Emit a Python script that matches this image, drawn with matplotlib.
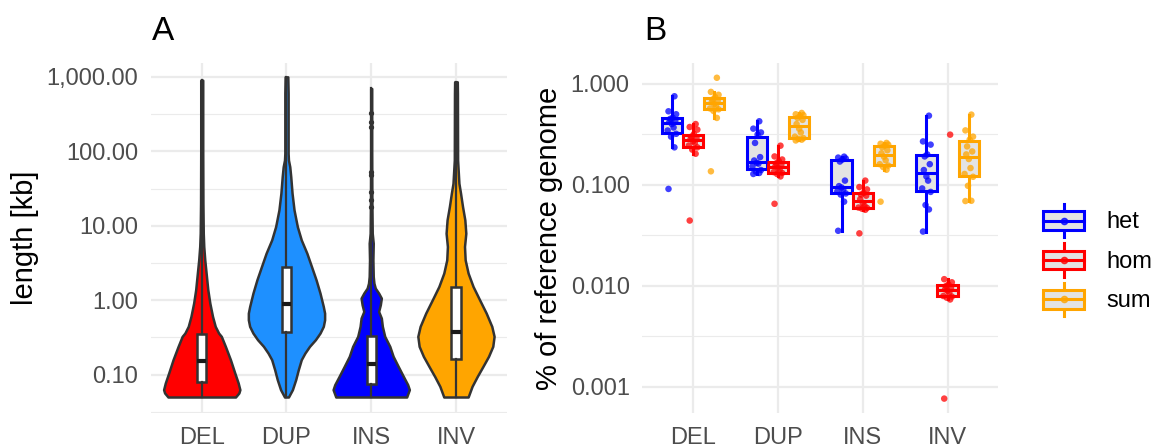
import numpy as np
import matplotlib
matplotlib.use("Agg")
import matplotlib.pyplot as plt
from matplotlib import cbook
from matplotlib.legend_handler import HandlerBase
from matplotlib.patches import Rectangle
from matplotlib.lines import Line2D
from matplotlib.ticker import FixedLocator, FuncFormatter, NullFormatter

plt.rcParams["font.family"] = ["Liberation Sans", "DejaVu Sans"]

SV_TYPES = ["DEL", "DUP", "INS", "INV"]
SV_COLORS = ["#FF0000", "#1E90FF", "#0000FF", "#FFA500"]

# panel A: violin outlines (length in kb, relative width)
DEL_LEN = [0.0501, 0.0568, 0.0629, 0.0773, 0.105, 0.159, 0.240, 0.327, 0.362, 0.445,
           0.605, 0.914, 1.38, 2.31, 3.48, 5.26, 7.93, 20, 100, 902]
DEL_DENS = [100, 110, 113, 108, 98, 85, 70, 58, 50, 40,
            32, 24, 18, 13, 9, 6, 4.5, 3.5, 3, 3]
DUP_LEN = [0.0501, 0.0629, 0.0857, 0.117, 0.159, 0.195, 0.240, 0.295, 0.362, 0.445,
           0.546, 0.671, 0.824, 1.245, 1.879, 2.84, 4.28, 6.46, 9.75, 16.3,
           27.3, 45.6, 62.1, 76.4, 93.8, 598, 1000]
DUP_DENS = [6, 18, 28, 36, 45, 56, 70, 88, 102, 112,
            116, 116, 112, 102, 90, 76, 62, 45, 33, 23,
            17, 13, 10, 6, 5, 5, 4]
INS_LEN = [0.0501, 0.0629, 0.0735, 0.0951, 0.129, 0.176, 0.240, 0.327, 0.445, 0.575,
           0.706, 0.869, 1.067, 1.245, 1.453, 1.695, 2.08, 3.48, 5.82, 7.93,
           20, 100, 698]
INS_DENS = [105, 113, 108, 95, 80, 65, 55, 40, 33, 30,
            22, 27, 30, 22, 12, 8, 6, 5, 6, 3,
            2, 1.5, 1.5]
INV_LEN = [0.0501, 0.0697, 0.0951, 0.129, 0.176, 0.240, 0.327, 0.445, 0.671, 1.01,
           1.53, 2.31, 3.48, 5.26, 7.93, 12.0, 18.1, 27.3, 37.2, 76.4,
           598, 858]
INV_DENS = [37, 49, 65, 82, 99, 112, 116, 109, 92, 72,
            52, 37, 28, 26, 30, 27, 20, 14, 9, 5,
            4.5, 4]

# panel A: box statistics (kb)
LEN_Q1 = [0.079, 0.37, 0.076, 0.162]
LEN_MED = [0.151, 0.886, 0.140, 0.37]
LEN_Q3 = [0.351, 2.83, 0.333, 1.50]
LEN_MIN = [0.05, 0.05, 0.05, 0.05]
LEN_MAX = [902, 1000, 698, 858]
INS_OUTLIERS = [322, 249, 214, 53, 48, 28.7, 22.2, 18.1]

# panel B: % of reference genome per sample
GENOTYPES = ["het", "hom", "sum"]
GT_COLORS = ["#0000FF", "#FF0000", "#FFA500"]
DEL_HET = [0.091, 0.235, 0.30, 0.32, 0.345, 0.37, 0.40, 0.42, 0.43, 0.45, 0.462, 0.50, 0.535, 0.754]
DEL_HOM = [0.0442, 0.203, 0.223, 0.235, 0.245, 0.26, 0.27, 0.285, 0.29, 0.30, 0.318, 0.352, 0.374, 0.40]
DEL_SUM = [0.136, 0.46, 0.54, 0.56, 0.571, 0.60, 0.63, 0.66, 0.68, 0.70, 0.74, 0.78, 0.833, 1.15]
DUP_HET = [0.128, 0.131, 0.135, 0.14, 0.152, 0.162, 0.165, 0.174, 0.188, 0.26, 0.315, 0.33, 0.36, 0.426]
DUP_HOM = [0.0648, 0.121, 0.128, 0.131, 0.1335, 0.14, 0.147, 0.153, 0.158, 0.163, 0.172, 0.178, 0.191, 0.244]
DUP_SUM = [0.275, 0.28, 0.285, 0.29, 0.30, 0.33, 0.36, 0.40, 0.44, 0.46, 0.48, 0.49, 0.50, 0.515]
INS_HET = [0.035, 0.068, 0.08, 0.082, 0.086, 0.09, 0.094, 0.097, 0.11, 0.17, 0.178, 0.182, 0.186, 0.19]
INS_HOM = [0.033, 0.0565, 0.058, 0.059, 0.0595, 0.062, 0.066, 0.072, 0.078, 0.08, 0.083, 0.09, 0.095, 0.11]
INS_SUM = [0.068, 0.141, 0.15, 0.155, 0.16, 0.175, 0.19, 0.205, 0.22, 0.235, 0.245, 0.25, 0.255, 0.26]
INV_HET = [0.0344, 0.057, 0.063, 0.085, 0.092, 0.11, 0.121, 0.14, 0.16, 0.191, 0.20, 0.25, 0.269, 0.484]
INV_HOM = [0.00076, 0.0073, 0.0076, 0.0078, 0.0079, 0.0085, 0.0089, 0.0092, 0.0095, 0.0099, 0.0103, 0.0108, 0.0116, 0.314]
INV_SUM = [0.069, 0.0694, 0.0977, 0.12, 0.128, 0.1465, 0.18, 0.20, 0.214, 0.24, 0.28, 0.30, 0.346, 0.496]

JITTER = [-0.04, 0.03, -0.01, 0.05, -0.05, 0.02, 0.0, -0.03, 0.04, -0.02, 0.01, 0.05, -0.04, 0.03]

GRID = "#EBEBEB"
TEXT_GREY = "#4D4D4D"
OUTLINE = "#333333"
BOX_FILL = "#E3E3E3"

W, H = 1153, 447
fig = plt.figure(figsize=(W / 100, H / 100), dpi=100)
ax_a = fig.add_axes([150.9 / W, 1 - 413 / H, 355.9 / W, 350.3 / H])
ax_b = fig.add_axes([642.2 / W, 1 - 413 / H, 356.3 / W, 350.3 / H])


def style_axis(ax, lo, hi, majors, fmt):
    ax.set_yscale("log")
    ax.set_ylim(lo, hi)
    ax.set_xlim(0.4, 4.6)
    ax.set_xticks(range(1, 5))
    ax.set_xticklabels(SV_TYPES)
    ax.yaxis.set_major_locator(FixedLocator(majors))
    ax.yaxis.set_major_formatter(FuncFormatter(fmt))
    halves = [10 ** (np.log10(m) + 0.5) for m in majors] + [10 ** (np.log10(majors[0]) - 0.5)]
    ax.yaxis.set_minor_locator(FixedLocator(halves))
    ax.yaxis.set_minor_formatter(NullFormatter())
    ax.grid(which="major", color=GRID, lw=1.6)
    ax.grid(which="minor", axis="y", color=GRID, lw=0.8)
    ax.set_axisbelow(True)
    for s in ax.spines.values():
        s.set_visible(False)
    ax.tick_params(which="both", length=0, labelsize=17, colors=TEXT_GREY)
    ax.tick_params(axis="x", pad=10)
    ax.tick_params(axis="y", pad=9)


# ---- panel A ----
profiles = [(DEL_LEN, DEL_DENS), (DUP_LEN, DUP_DENS), (INS_LEN, INS_DENS), (INV_LEN, INV_DENS)]
vpstats = []
for i, (lens, dens) in enumerate(profiles):
    vpstats.append(dict(coords=np.array(lens), vals=np.array(dens, float),
                        mean=LEN_MED[i], median=LEN_MED[i], min=LEN_MIN[i], max=LEN_MAX[i]))
parts = ax_a.violin(vpstats, positions=[1, 2, 3, 4], widths=0.9,
                    showmeans=False, showextrema=False, showmedians=False)
for body, c in zip(parts["bodies"], SV_COLORS):
    body.set_facecolor(c)
    body.set_edgecolor(OUTLINE)
    body.set_linewidth(1.8)
    body.set_alpha(1)
    body.set_zorder(2)

box_a = []
for i in range(4):
    box_a.append(dict(med=LEN_MED[i], q1=LEN_Q1[i], q3=LEN_Q3[i],
                      whislo=LEN_MIN[i], whishi=LEN_MAX[i],
                      fliers=INS_OUTLIERS if SV_TYPES[i] == "INS" else []))
ax_a.bxp(box_a, positions=[1, 2, 3, 4], widths=0.11, patch_artist=True, showcaps=False,
         boxprops=dict(facecolor="white", edgecolor=OUTLINE, lw=1.8),
         whiskerprops=dict(color=OUTLINE, lw=1.6),
         medianprops=dict(color="#1A1A1A", lw=3),
         flierprops=dict(marker="o", ms=2.8, markerfacecolor=OUTLINE, markeredgecolor=OUTLINE),
         zorder=3)
style_axis(ax_a, 10 ** -1.515, 10 ** 3.19, [0.1, 1, 10, 100, 1000], lambda v, p: f"{v:,.2f}")

# ---- panel B ----
groups = [[DEL_HET, DEL_HOM, DEL_SUM], [DUP_HET, DUP_HOM, DUP_SUM],
          [INS_HET, INS_HOM, INS_SUM], [INV_HET, INV_HOM, INV_SUM]]
offsets = [-0.25, 0.0, 0.25]
for i, trio in enumerate(groups):
    for j, vals in enumerate(trio):
        pos = i + 1 + offsets[j]
        c = GT_COLORS[j]
        st = cbook.boxplot_stats(np.log10(vals), whis=1.5)[0]
        for k in ("med", "q1", "q3", "whislo", "whishi", "mean", "cilo", "cihi"):
            st[k] = 10 ** st[k]
        st["fliers"] = []
        ax_b.bxp([st], positions=[pos], widths=0.24, patch_artist=True,
                 showcaps=False, showfliers=False,
                 boxprops=dict(facecolor=BOX_FILL, edgecolor=c, lw=2.2),
                 whiskerprops=dict(color=c, lw=2.2),
                 medianprops=dict(color=c, lw=2.2), zorder=2)
        ax_b.scatter(pos + np.array(JITTER[:len(vals)]), vals, s=22, color=c,
                     alpha=0.75, edgecolors="none", zorder=3)
style_axis(ax_b, 10 ** -3.262, 10 ** 0.21, [0.001, 0.01, 0.1, 1], lambda v, p: f"{v:.3f}")


class BoxKey(HandlerBase):
    def create_artists(self, legend, orig_handle, xdescent, ydescent, width, height, fontsize, trans):
        c = orig_handle.get_color()
        x0, y0 = -xdescent, -ydescent
        cx, cy = x0 + width / 2, y0 + height / 2
        bw, bh = width * 0.88, height * 0.55
        whisk = Line2D([cx, cx, np.nan, cx, cx],
                       [y0, cy - bh / 2, np.nan, cy + bh / 2, y0 + height],
                       color=c, lw=2.2, transform=trans)
        box = Rectangle((cx - bw / 2, cy - bh / 2), bw, bh, facecolor=BOX_FILL,
                        edgecolor=c, lw=2.2, transform=trans)
        med = Line2D([cx - bw / 2, cx + bw / 2], [cy, cy], color=c, lw=2.2, transform=trans)
        dot = Line2D([cx], [cy], marker="o", ms=4.5, lw=0, color=c, alpha=0.75, transform=trans)
        return [whisk, box, med, dot]


handles = [Line2D([], [], color=c, label=g) for g, c in zip(GENOTYPES, GT_COLORS)]
fig.legend(handles=handles, loc="center left", bbox_to_anchor=(1040 / W, 1 - 260 / H),
           frameon=False, fontsize=17, handler_map={Line2D: BoxKey()},
           handlelength=2.0, handleheight=1.8, labelspacing=0.25, handletextpad=0.8,
           borderpad=0, borderaxespad=0)

fig.text(25 / W, 1 - 238 / H, "length [kb]", rotation=90, ha="center", va="center", fontsize=21)
fig.text(549 / W, 1 - 238 / H, "% of reference genome", rotation=90, ha="center", va="center", fontsize=21)
fig.text(152 / W, 1 - 31 / H, "A", ha="left", va="center", fontsize=24)
fig.text(644 / W, 1 - 31 / H, "B", ha="left", va="center", fontsize=24)

fig.savefig("out.png", dpi=100)
